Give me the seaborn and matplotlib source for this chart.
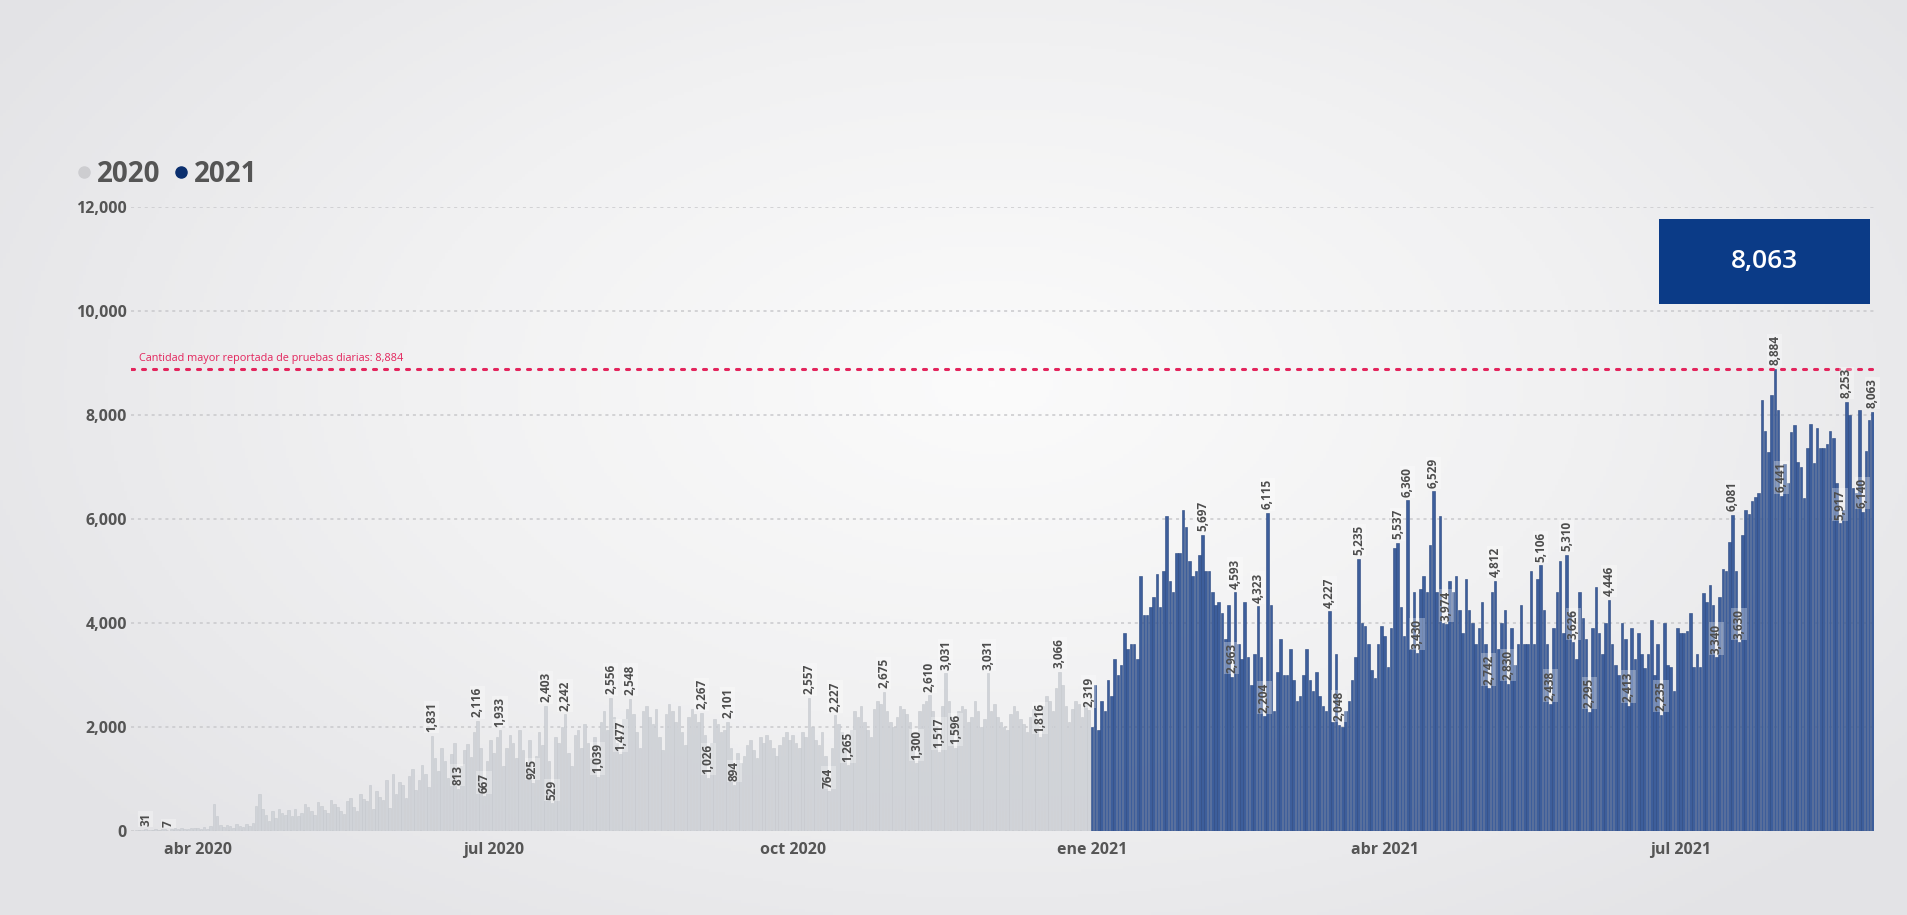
import numpy as np
import pandas as pd
import matplotlib
matplotlib.use("Agg")
import matplotlib.pyplot as plt
import seaborn as sns
from matplotlib.lines import Line2D
from matplotlib.patches import Rectangle
from matplotlib.colors import LinearSegmentedColormap

# ---------------- data (daily tests) ----------------
v2020_mar = [10, 18, 22, 31, 14, 25, 35, 20, 40, 30, 7, 45, 50, 35, 55, 40, 30, 50, 60]  # from Mar 13
v2020_apr = [60, 45, 80, 30, 90, 520, 280, 110, 70, 120, 90, 60, 140, 100, 80, 130, 95, 150, 480, 720,
             420, 310, 200, 380, 250, 430, 350, 300, 410, 280]
v2020_may = [420, 280, 350, 520, 460, 380, 300, 560, 480, 400, 350, 600, 520, 470, 380, 320, 580, 640, 460, 390,
             720, 610, 570, 880, 420, 760, 650, 590, 980, 450, 1100]
v2020_jun = [720, 950, 880, 640, 1050, 1200, 780, 980, 1260, 1100, 850, 1831, 1400, 1150, 1600, 1350, 1020, 1480,
             1700, 813, 1250, 1550, 1680, 1420, 1900, 2116, 1600, 667, 1350, 1750]
v2020_jul = [1500, 1800, 1933, 1250, 1600, 1850, 1700, 1400, 1950, 1550, 1300, 1750, 925, 1450, 1900, 1650, 2403,
             1350, 529, 1800, 1700, 2000, 2242, 1500, 1250, 1850, 1950, 1600, 2050, 1700, 1400]
v2020_aug = [1800, 1039, 2100, 2300, 1950, 2556, 2200, 1700, 1477, 2150, 2350, 2548, 2250, 1900, 1600, 2300, 2400,
             2200, 2050, 2350, 1800, 1550, 2250, 2450, 2300, 2100, 2400, 1900, 1650, 2200, 2350]
v2020_sep = [2250, 2100, 2267, 1850, 1026, 1700, 2150, 2050, 1900, 1950, 2101, 1600, 894, 1500, 1300, 1450, 1650,
             1750, 1550, 1400, 1800, 1700, 1850, 1750, 1600, 1450, 1650, 1800, 1900, 1750]
v2020_oct = [1850, 1700, 1600, 1900, 1800, 2557, 2000, 1750, 1650, 1900, 1450, 764, 1600, 2227, 2050, 1900, 1700,
             1265, 1950, 2300, 2200, 2400, 2100, 1950, 1800, 2350, 2500, 2450, 2675, 2300, 2100]
v2020_nov = [2000, 2200, 2400, 2350, 2250, 2100, 1800, 1300, 2300, 2450, 2500, 2610, 2300, 2000, 1517, 2400, 3031,
             2500, 2200, 1596, 2300, 2400, 2350, 2100, 2200, 2500, 2300, 2000, 2150, 3031]
v2020_dec = [2300, 2450, 2200, 2100, 2000, 1950, 2250, 2400, 2300, 2150, 2050, 1900, 2200, 2350, 2100, 1816, 2400,
             2600, 2500, 2300, 2750, 3066, 2800, 2400, 2100, 2350, 2500, 2450, 2200, 2450, 2319]
v2021_jan = [2000, 2800, 1950, 2500, 2300, 2900, 2600, 3300, 3000, 3200, 3800, 3500, 3600, 3600, 3300, 4900, 4150,
             4150, 4300, 4500, 4950, 4300, 5000, 6050, 4800, 4600, 5350, 5350, 6170, 5850, 5200]
v2021_feb = [4900, 5000, 5300, 5697, 5000, 5000, 4600, 4350, 4400, 4200, 3700, 4350, 2963, 4593, 3600, 3300, 4400,
             3350, 2800, 3400, 4323, 3350, 2204, 6115, 4350, 2300, 3050, 3700]
v2021_mar = [3000, 3000, 3500, 2900, 2500, 2600, 3000, 3500, 2900, 2700, 3050, 2600, 2400, 2300, 4227, 2100, 3400,
             2048, 2000, 2300, 2500, 2900, 3350, 5235, 4000, 3950, 3600, 3100, 2950, 3600, 3950]
v2021_apr = [3750, 3150, 3900, 5450, 5537, 4300, 3750, 6360, 3500, 4600, 3430, 4650, 4900, 4600, 5500, 6529, 4600,
             6050, 4000, 3974, 4800, 4600, 4900, 4250, 3800, 4850, 4250, 4000, 3600, 3900]
v2021_may = [4400, 3600, 2742, 4600, 4812, 3500, 4000, 4250, 2830, 3900, 3200, 3600, 4350, 3600, 3600, 5000, 3600,
             4850, 5106, 4250, 3600, 2438, 3900, 4600, 5200, 3800, 5310, 4200, 3626, 3300, 4600]
v2021_jun = [4100, 3700, 2295, 3900, 4700, 3800, 3400, 4000, 4446, 3600, 3200, 3000, 4000, 3700, 2413, 3900, 3300,
             3800, 3400, 3130, 3400, 4050, 3000, 3600, 2235, 4000, 3200, 3150, 2700, 3900]
v2021_jul = [3800, 3800, 3850, 4200, 3150, 3400, 3150, 4580, 4400, 4730, 4350, 3340, 4500, 5040, 5000, 5560, 6081,
             5000, 3630, 5700, 6170, 6100, 6350, 6420, 6500, 8290, 7700, 7290, 8380, 8884, 8100]
v2021_aug = [6441, 7050, 6700, 7670, 7800, 7100, 7000, 6400, 7370, 7830, 7080, 7750, 7370, 7370, 7450, 7700, 7550,
             6700, 5917, 6170, 8253, 8000, 6600, 6500, 8100, 6140, 7300, 7900, 8063]

month_starts = ["2020-03-13", "2020-04-01", "2020-05-01", "2020-06-01", "2020-07-01", "2020-08-01",
                "2020-09-01", "2020-10-01", "2020-11-01", "2020-12-01", "2021-01-01", "2021-02-01",
                "2021-03-01", "2021-04-01", "2021-05-01", "2021-06-01", "2021-07-01", "2021-08-01"]
month_values = [v2020_mar, v2020_apr, v2020_may, v2020_jun, v2020_jul, v2020_aug, v2020_sep, v2020_oct,
                v2020_nov, v2020_dec, v2021_jan, v2021_feb, v2021_mar, v2021_apr, v2021_may, v2021_jun,
                v2021_jul, v2021_aug]

# bars that carry a value label
label_dates = ["2020-03-16", "2020-03-23", "2020-06-12", "2020-06-20", "2020-06-26", "2020-06-28",
               "2020-07-03", "2020-07-13", "2020-07-17", "2020-07-19", "2020-07-23", "2020-08-02",
               "2020-08-06", "2020-08-09", "2020-08-12", "2020-09-03", "2020-09-05", "2020-09-11",
               "2020-09-13", "2020-10-06", "2020-10-12", "2020-10-14", "2020-10-18", "2020-10-29",
               "2020-11-08", "2020-11-12", "2020-11-15", "2020-11-17", "2020-11-20", "2020-11-30",
               "2020-12-16", "2020-12-22", "2020-12-31",
               "2021-02-04", "2021-02-13", "2021-02-14", "2021-02-21", "2021-02-23", "2021-02-24",
               "2021-03-15", "2021-03-18", "2021-03-24", "2021-04-05", "2021-04-08", "2021-04-11",
               "2021-04-16", "2021-04-20", "2021-05-03", "2021-05-05", "2021-05-09", "2021-05-19",
               "2021-05-22", "2021-05-27", "2021-05-29", "2021-06-03", "2021-06-09", "2021-06-15",
               "2021-06-25", "2021-07-12", "2021-07-17", "2021-07-19", "2021-07-30", "2021-08-01",
               "2021-08-19", "2021-08-21", "2021-08-26", "2021-08-29"]

tick_dates = ["2020-04-01", "2020-07-01", "2020-10-01", "2021-01-01", "2021-04-01", "2021-07-01"]
tick_labels = ["abr 2020", "jul 2020", "oct 2020", "ene 2021", "abr 2021", "jul 2021"]
y_ticks = [0, 2000, 4000, 6000, 8000, 10000, 12000]
series_names = ["2020", "2021"]
series_colors = {"2020": "#d0d3d8", "2021": "#3d5e9b"}
series_edges = {"2020": "#c6c9ce", "2021": "#2a477f"}
record_text = "Cantidad mayor reportada de pruebas diarias: "

# ---------------- build table ----------------
frames = []
for start, vals in zip(month_starts, month_values):
    d = pd.date_range(start, periods=len(vals), freq="D")
    frames.append(pd.DataFrame({"date": d, "value": vals}))
df = pd.concat(frames, ignore_index=True)
origin = pd.Timestamp(month_starts[0])
df["day"] = (df["date"] - origin).dt.days
df["year"] = df["date"].dt.year.astype(str)

sns.set_theme(style="white")
plt.rcParams["font.family"] = ["Open Sans", "DejaVu Sans"]

W, H = 1908, 915
fig = plt.figure(figsize=(W / 100, H / 100), dpi=100)

# soft radial background
bg = fig.add_axes([0, 0, 1, 1], zorder=-10)
yy, xx = np.mgrid[0:1:300j, 0:1:600j]
r = np.sqrt(((xx - 0.52) / 0.62) ** 2 + ((yy - 0.58) / 0.75) ** 2)
r = np.clip(r, 0, 1)
cmap = LinearSegmentedColormap.from_list("bg", ["#fbfbfb", "#f1f1f2", "#e3e3e6"])
bg.imshow(r, cmap=cmap, extent=[0, 1, 0, 1], aspect="auto", origin="lower", vmin=0, vmax=1)
bg.axis("off")

ax = fig.add_axes([131 / W, 1 - 831 / H, (1874 - 131) / W, (831 - 207) / H])
ax.set_facecolor("none")

for yr in series_names:
    sub = df[df["year"] == yr]
    sns.barplot(data=sub, x="day", y="value", native_scale=True, color=series_colors[yr],
                saturation=1, width=0.78, edgecolor=series_edges[yr], linewidth=0.4,
                errorbar=None, ax=ax, zorder=3)

last_day = int(df["day"].max())
ax.set_xlim(-1.5, last_day + 0.5)
ax.set_ylim(0, 12000)

tick_pos = [(pd.Timestamp(t) - origin).days for t in tick_dates]
ax.set_xticks(tick_pos)
ax.set_xticklabels(tick_labels)
ax.set_yticks(y_ticks)
ax.set_yticklabels([f"{v:,}" for v in y_ticks])
ax.tick_params(axis="both", length=0, labelsize=11.5, labelcolor="#555555")
ax.tick_params(axis="x", pad=8)
ax.tick_params(axis="y", pad=3)
for t in ax.get_xticklabels() + ax.get_yticklabels():
    t.set_fontweight("bold")
ax.set_xlabel("")
ax.set_ylabel("")
for s in ax.spines.values():
    s.set_visible(False)
ax.yaxis.grid(True, linestyle=(0, (2, 2.5)), color="#c9c9cc", linewidth=1.1, zorder=0)
ax.set_axisbelow(True)

# record line
record = int(df["value"].max())
ax.axhline(record, color="#e3245c", linestyle=(0, (1, 2.6)), linewidth=2.2, zorder=5,
           dash_capstyle="round")
ax.text(1.0, record + 90, f"{record_text}{record:,}", color="#e3245c", fontsize=7.8,
        ha="left", va="bottom", zorder=6)

# value labels
lookup = df.set_index("date")
for ds in label_dates:
    row = lookup.loc[pd.Timestamp(ds)]
    ax.text(row["day"], row["value"] + 70, f"{int(row['value']):,}", rotation=90,
            ha="center", va="bottom", fontsize=8.5, fontweight="bold", color="#4d4d4d", zorder=7,
            bbox=dict(boxstyle="square,pad=0.1", facecolor="white", edgecolor="none", alpha=0.3))

# latest value card
latest = int(df["value"].iloc[-1])
x0, x1 = 1659 / W, 1870 / W
y0, y1 = 1 - 304 / H, 1 - 219 / H
fig.patches.append(Rectangle((x0, y0), x1 - x0, y1 - y0, transform=fig.transFigure,
                             facecolor="#0b3b87", edgecolor="none", zorder=20))
fig.text((x0 + x1) / 2, (y0 + y1) / 2, f"{latest:,}", color="white", fontsize=19,
         fontweight="semibold", ha="center", va="center", zorder=21)

# legend
handles = [Line2D([0], [0], marker="o", linestyle="", markersize=8,
                  markerfacecolor=c, markeredgecolor=c) for c in ["#cdcdd0", "#0b2f6e"]]
fig.legend(handles, series_names, loc="center left", bbox_to_anchor=(76 / W, 1 - 174 / H),
           ncol=2, frameon=False, handletextpad=0.15, columnspacing=0.45, handlelength=0.6,
           borderpad=0, borderaxespad=0,
           prop={"size": 20, "weight": "bold"}, labelcolor="#555555")

fig.savefig("out.png", dpi=100)
